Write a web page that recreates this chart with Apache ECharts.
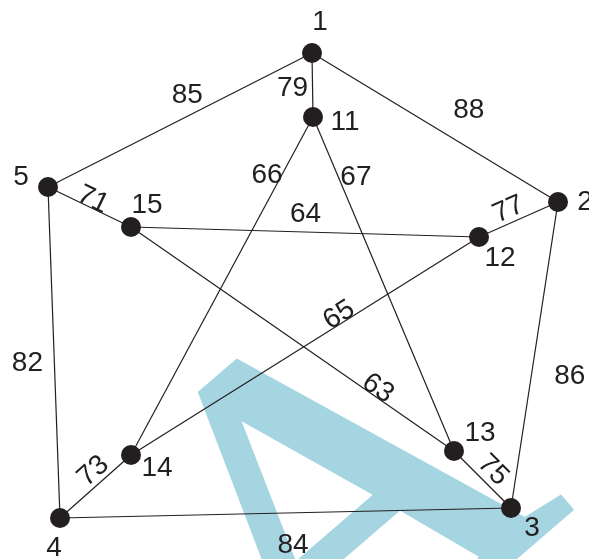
<!DOCTYPE html>
<html><head><meta charset="utf-8">
<script src="https://cdn.jsdelivr.net/npm/echarts@6/dist/echarts.min.js"></script>
<style>html,body{margin:0;padding:0;background:#fff}#c{width:589px;height:559px}</style>
</head><body><div id="c"></div>
<script>
// ---- data ----
const nodeNames = ['1', '2', '3', '4', '5', '11', '12', '13', '14', '15'];
const nodeX     = [312, 558, 511,  60,  48, 313, 479, 454, 131, 131];
const nodeY     = [ 53, 202, 508, 518, 187, 117, 237, 451, 455, 227];
const edgeSource = ['5', '1', '1', '5', '5', '12', '2', '15', '15', '14', '11', '14', '4', '13', '4'];
const edgeTarget = ['1', '11', '2', '15', '4', '2', '3', '12', '13', '11', '13', '12', '14', '3', '3'];
const edgeWeight = [85, 79, 88, 71, 82, 77, 86, 64, 63, 66, 67, 65, 73, 75, 84];
const watermarkText = 'A';

// ---- styling / placement (not data) ----
const INK = '#231f20';
const FONT = '"Liberation Sans", Arial, sans-serif';
const nodeLabelOffset = {
  '1': [8, -31], '11': [32, 5], '2': [27, 0], '5': [-27, -10], '15': [16, -22],
  '12': [21, 21], '14': [26, 13], '4': [-6, 30], '13': [26, -18], '3': [21, 20]
};
// [fraction along edge, perpendicular distance, rotate along edge]
const edgeLabelPlace = [
  [0.56, 19, false], [0.54, -20, false], [0.57, 32, false], [0.50, 8, true],
  [0.53, -27, false], [0.44, 13, true], [0.55, 38, false], [0.50, 18, false],
  [0.75, 8, true], [0.81, 13, false], [0.20, 16, false], [0.61, 8, true],
  [0.59, 13, true], [0.51, 14, true], [0.515, -32, false]
];

const idx = {};
nodeNames.forEach((n, i) => idx[n] = i);

const nodes = nodeNames.map((n, i) => ({
  name: n, value: [nodeX[i], nodeY[i]],
  label: { offset: nodeLabelOffset[n] }
}));
const links = edgeSource.map((s, i) => ({ source: s, target: edgeTarget[i], value: edgeWeight[i] }));

const edgeLabels = edgeSource.map((s, i) => {
  const a = idx[s], b = idx[edgeTarget[i]];
  const vx = nodeX[b] - nodeX[a], vy = nodeY[b] - nodeY[a];
  const L = Math.hypot(vx, vy), ux = vx / L, uy = vy / L;
  const nx = uy, ny = -ux;
  const [t, d, rot] = edgeLabelPlace[i];
  return {
    value: [nodeX[a] + t * vx + d * nx, nodeY[a] + t * vy + d * ny],
    name: String(edgeWeight[i]),
    label: { rotate: rot ? -Math.atan2(vy, vx) * 180 / Math.PI : 0 }
  };
});

const chart = echarts.init(document.getElementById('c'), null, { renderer: 'canvas' });
chart.setOption({
  animation: false,
  backgroundColor: '#ffffff',
  grid: { left: 0, right: 0, top: 0, bottom: 0 },
  xAxis: { type: 'value', min: 0, max: 589, show: false },
  yAxis: { type: 'value', min: 0, max: 559, inverse: true, show: false },
  graphic: [{
    type: 'text', z: 0, x: 351, y: 525, rotation: 0.71, silent: true,
    style: { text: watermarkText, font: '495px "Liberation Serif", "Times New Roman", serif',
             fill: '#a6d5e2', stroke: '#a6d5e2', lineWidth: 8, lineJoin: 'miter', miterLimit: 20,
             align: 'center', verticalAlign: 'middle' }
  }],
  series: [{
    type: 'graph', layout: 'none', coordinateSystem: 'cartesian2d', z: 3,
    symbol: 'circle', symbolSize: 20,
    itemStyle: { color: INK },
    lineStyle: { color: INK, width: 1.2, opacity: 1, curveness: 0 },
    label: { show: true, position: 'inside', formatter: '{b}', color: INK, fontSize: 28, fontFamily: FONT },
    emphasis: { disabled: true },
    data: nodes, links: links
  }, {
    type: 'scatter', z: 4, symbolSize: 1,
    itemStyle: { color: 'rgba(255,255,255,0)', opacity: 1 },
    label: { show: true, position: 'inside', formatter: '{b}', color: INK, opacity: 1,
             textBorderWidth: 0, fontSize: 28, fontFamily: FONT },
    emphasis: { disabled: true },
    data: edgeLabels
  }]
});
</script></body></html>
